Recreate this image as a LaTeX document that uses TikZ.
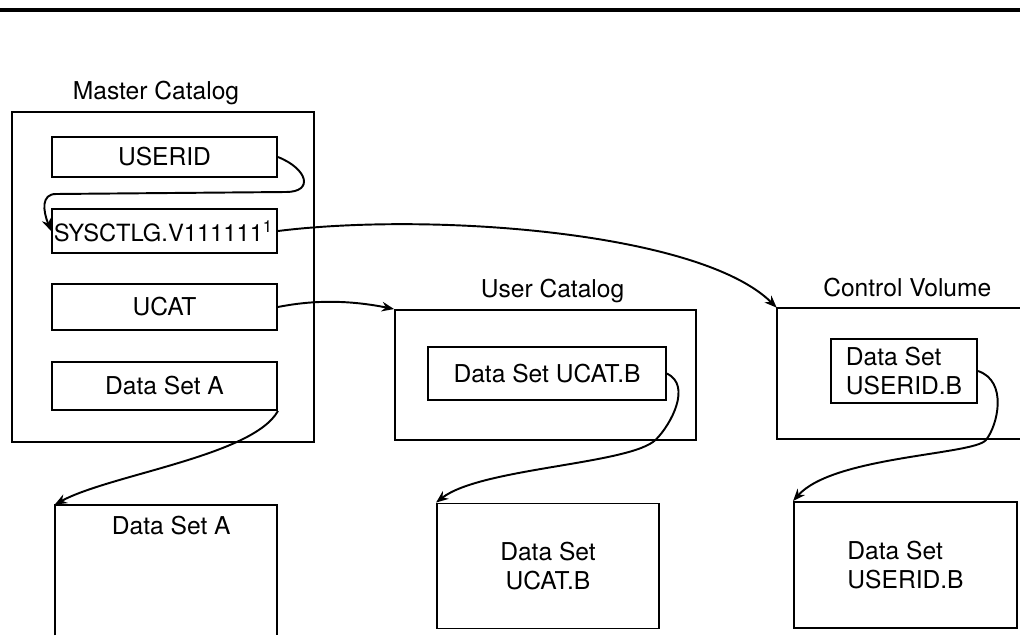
\documentclass[tikz,border=0pt]{standalone}
\usepackage{fontspec}
\setmainfont{TeX Gyre Heros}
\usetikzlibrary{arrows.meta, positioning}

\begin{document}
\begin{tikzpicture}[
    x=0.02cm, y=-0.02cm,
    every node/.style={font=\fontsize{14}{17}\selectfont},
    catbox/.style={rectangle, draw, line width=1.1pt},
    entry/.style={rectangle, draw, line width=1.1pt, minimum width=4.5cm, inner xsep=2pt},
    link/.style={-{Stealth[length=7pt, width=5.5pt]}, line width=1.1pt}
]
\useasboundingbox (0,0) rectangle (1020,635);

\draw[line width=2pt] (0,10) -- (1020,10);

% master catalog
\node[catbox, minimum width=6.04cm, minimum height=6.6cm] (master) at (163,277) {};
\node[above=0pt of master, xshift=-4pt] (mastertitle) {Master Catalog};
\node[entry, minimum height=0.8cm] (userid) at (164.5,157) {USERID};
\node[entry, minimum height=0.88cm, inner xsep=1pt, text width=4.43cm, align=left, font=\fontsize{13.5}{16}\selectfont] (sysctlg) at (164.5,231) {SYSCTLG.V111111\textsuperscript{1}};
\node[entry, minimum height=0.92cm] (ucat) at (164.5,307) {UCAT};
\node[entry, minimum height=0.96cm] (dsa) at (164.5,386) {Data Set A};

% user catalog
\node[catbox, minimum width=6.02cm, minimum height=2.6cm] (usercat) at (545.5,375) {};
\node[above=0pt of usercat, xshift=4pt] (usertitle) {User Catalog};
\node[catbox, minimum width=4.76cm, minimum height=1.06cm] (ucatb) at (547,373.5) {Data Set UCAT.B};

% control volume
\node[rectangle, minimum width=4.86cm, minimum height=2.62cm] (ctlvol) at (898.5,373.5) {};
\draw[line width=1.1pt] (ctlvol.north east) -| (ctlvol.south west) -- (ctlvol.south east);
\node[above=0.1cm of ctlvol, xshift=5pt] (ctltitle) {Control Volume};
\node[catbox, minimum width=2.92cm, minimum height=1.28cm, align=left] (useridb) at (904,371) {Data Set\\USERID.B};

% data sets
\node[rectangle, minimum width=4.44cm, minimum height=2.6cm] (dsabot) at (166,570) {};
\draw[line width=1.1pt] (dsabot.south west) |- (dsabot.north east) -- (dsabot.south east);
\node[below=3pt of dsabot.north, xshift=3pt] (dsabottxt) {Data Set A};
\node[catbox, minimum width=4.44cm, minimum height=2.5cm, align=center] (ucatbbot) at (548,566) {Data Set\\UCAT.B};
\node[catbox, minimum width=4.46cm, minimum height=2.52cm, align=left] (useridbbot) at (905.5,565) {Data Set\\USERID.B};

\draw[link] (userid.east) .. controls +(30,12) and +(28,0) .. ++(8,35) -- ++(-230,2) .. controls +(-15,0) and +(-8,-20) .. (sysctlg.west);
\draw[link] (sysctlg.east) .. controls +(153,-19) and +(-77,-76) .. (ctlvol.north west);
\draw[link] (ucat.east) .. controls +(40,-8) and +(-40,-8) .. (usercat.north west);
\draw[link] (dsa.south east) .. controls +(-25,45) and +(55,-30) .. (dsabot.north west);
\draw[link] (ucatb.east) .. controls +(25,12) and +(15,-15) .. ++(-11,66) .. controls +(-25,25) and +(45,-35) .. (ucatbbot.north west);
\draw[link] (useridb.east) .. controls +(30,10) and +(12,-15) .. ++(8,69) .. controls +(-12,15) and +(40,-45) .. (useridbbot.north west);

\end{tikzpicture}
\end{document}
